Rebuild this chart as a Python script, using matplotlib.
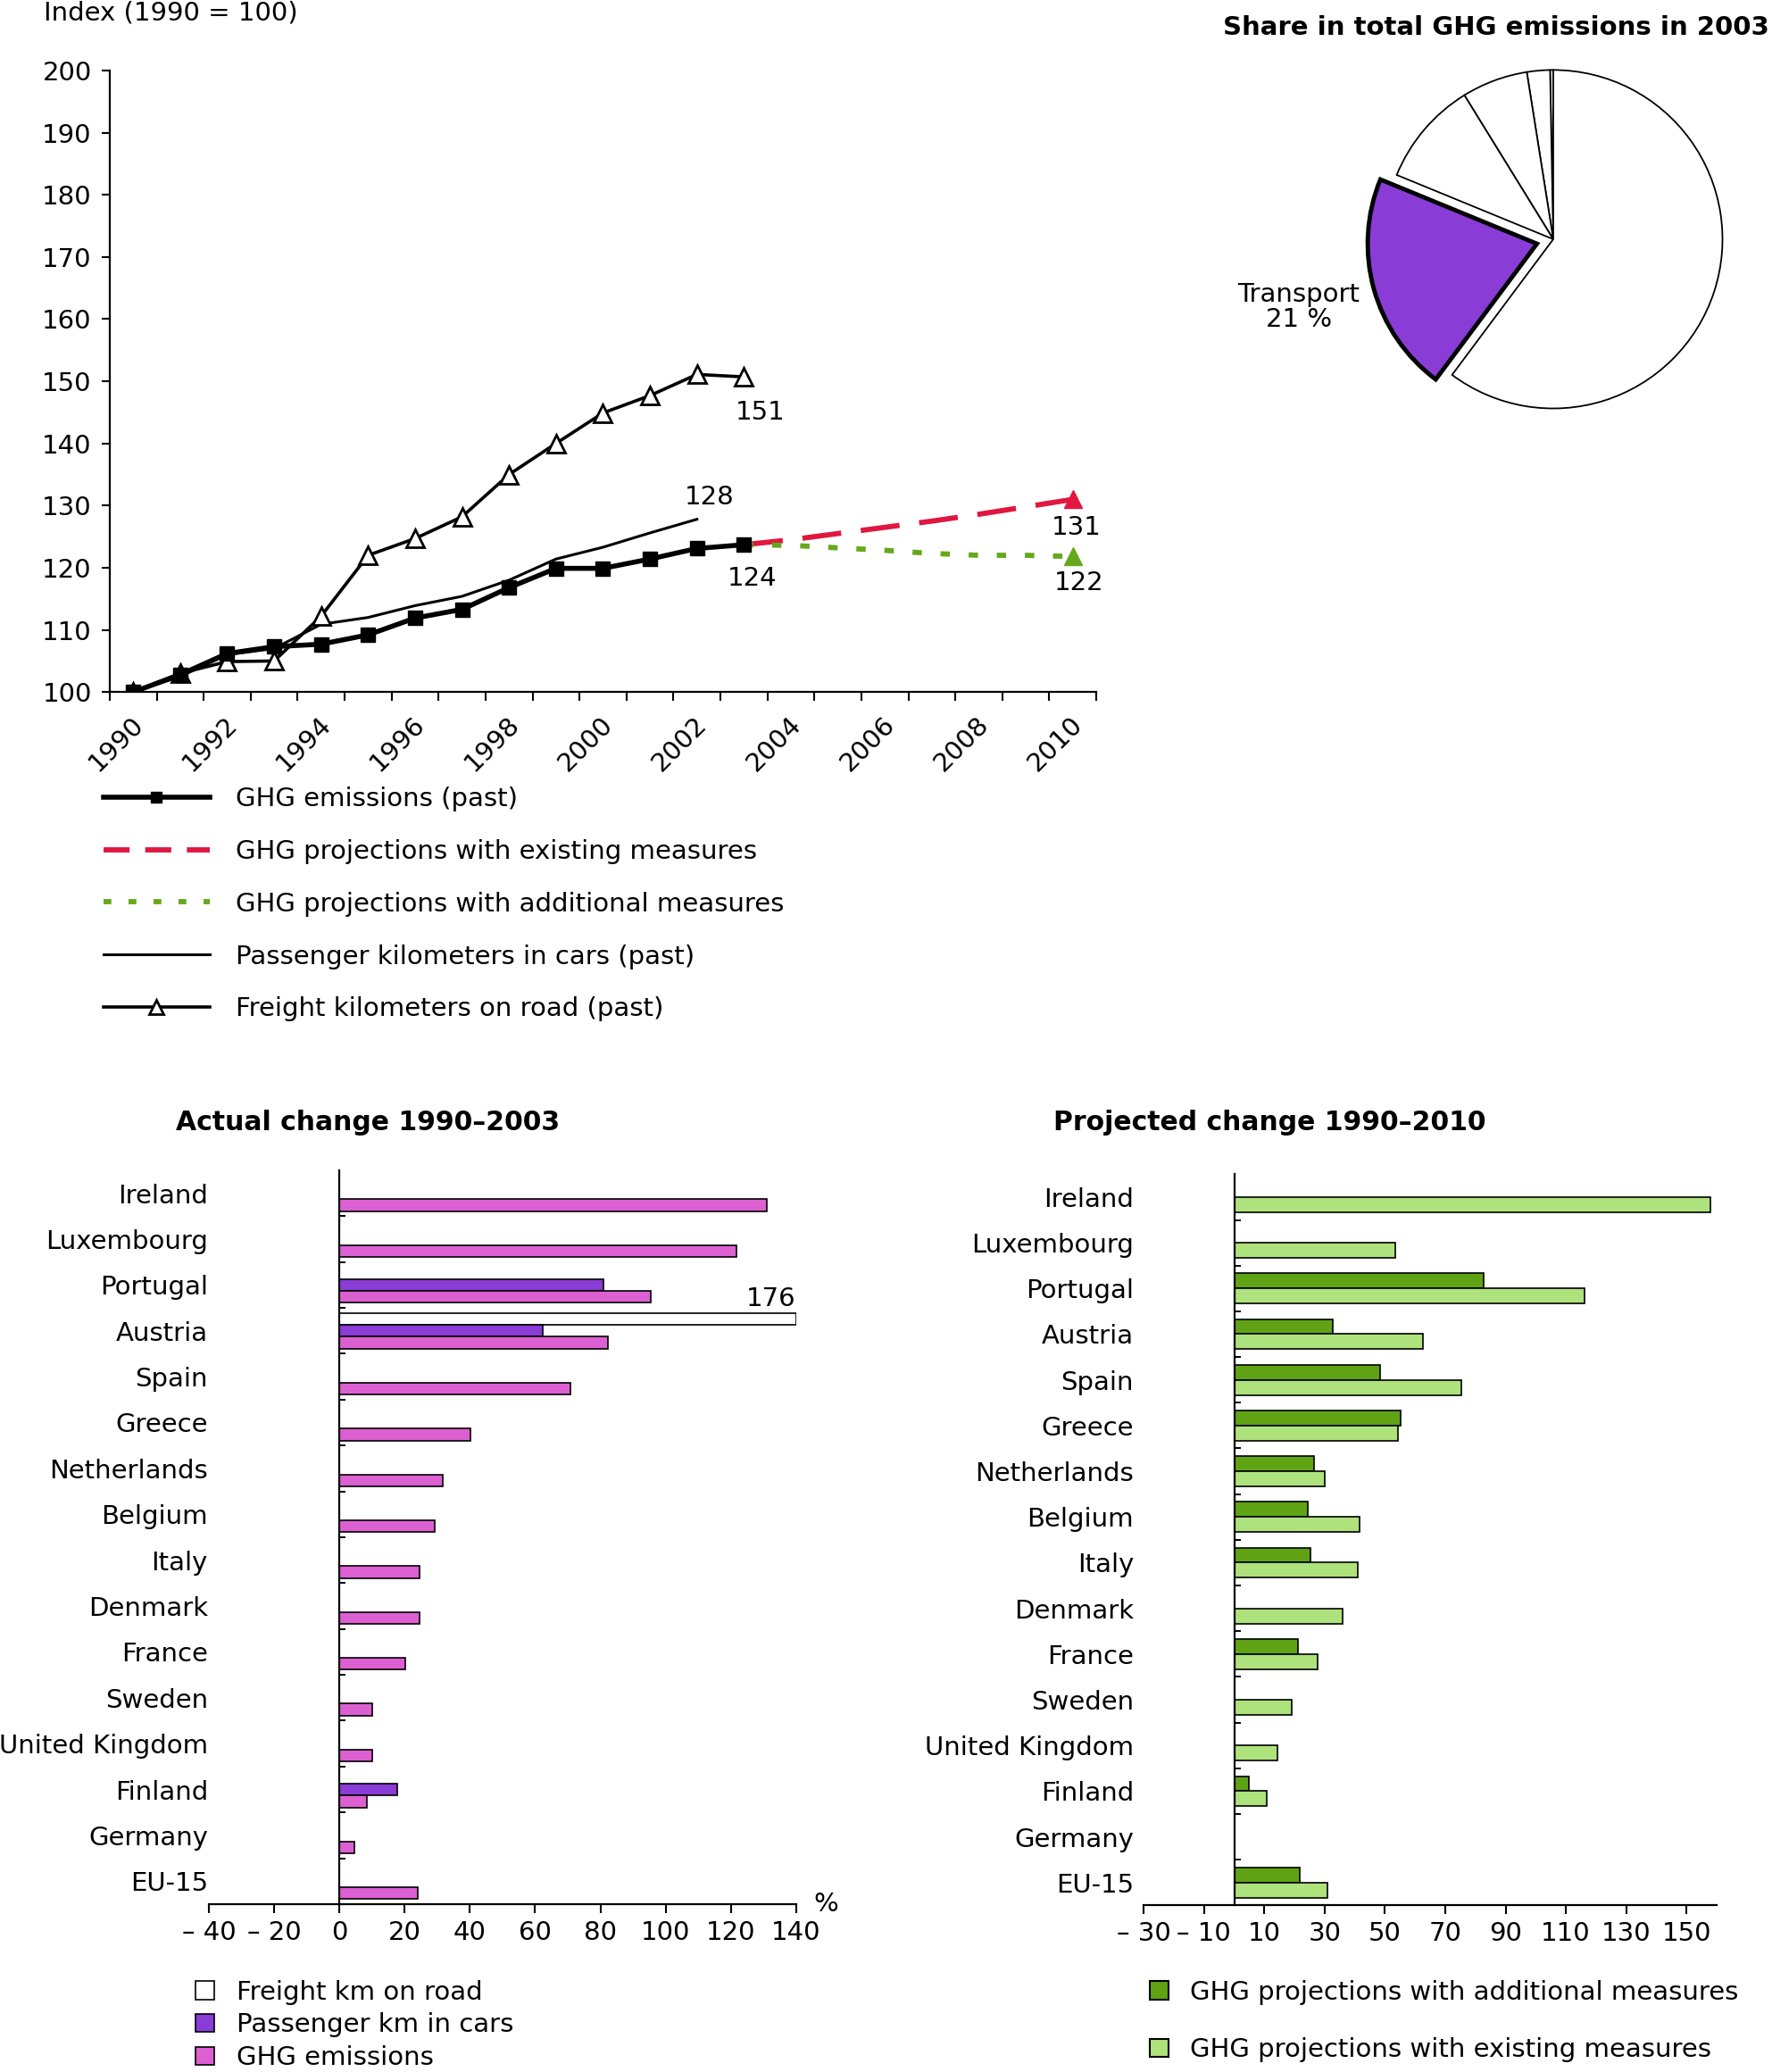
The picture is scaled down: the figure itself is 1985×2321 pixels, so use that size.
import matplotlib
matplotlib.use('Agg')
import matplotlib.pyplot as plt
from matplotlib.lines import Line2D
from matplotlib.patches import Patch
from matplotlib.transforms import ScaledTranslation
import numpy as np

plt.rcParams['font.family'] = ['DejaVu Sans']

# ---------------- data ----------------
years_past = list(range(1990, 2004))
ghg_past = [100, 102.8, 106.2, 107.3, 107.7, 109.2, 111.9, 113.3, 116.8, 119.9, 119.9, 121.4, 123.1, 123.7]
freight_km = [100, 103.0, 104.9, 105.0, 112.2, 122.0, 124.7, 128.2, 135.0, 140.0, 144.9, 147.7, 151.1, 150.7]
years_pass = list(range(1990, 2003))
passenger_km = [100, 102.5, 106.0, 107.0, 110.9, 112.0, 113.9, 115.4, 118.0, 121.4, 123.3, 125.6, 127.8]
years_proj = list(range(2003, 2011))
proj_existing = [123.7, 124.5, 125.5, 126.5, 127.5, 128.6, 129.8, 131.0]
proj_additional = [123.7, 123.6, 123.2, 122.8, 122.3, 122.0, 122.0, 121.8]

pie_sectors = ['Other', 'Waste', 'Industrial processes', 'Agriculture', 'Transport', 'Energy']
pie_shares = [0.3, 2.2, 6.3, 10.0, 21.0, 60.2]

countries = ['Ireland', 'Luxembourg', 'Portugal', 'Austria', 'Spain', 'Greece', 'Netherlands',
             'Belgium', 'Italy', 'Denmark', 'France', 'Sweden', 'United Kingdom', 'Finland',
             'Germany', 'EU-15']
nan = np.nan
freight_change = [nan, nan, nan, 176, nan, nan, nan, nan, nan, nan, nan, nan, nan, nan, nan, nan]
passenger_change = [nan, nan, 81.0, 62.2, nan, nan, nan, nan, nan, nan, nan, nan, nan, 17.7, nan, nan]
ghg_change = [131.0, 121.8, 95.4, 82.4, 70.8, 40.1, 31.7, 29.1, 24.5, 24.5, 20.2, 10.0, 10.0, 8.3, 4.5, 23.9]
proj_add_change = [nan, nan, 82.7, 32.6, 48.3, 55.1, 26.6, 24.3, 25.2, nan, 21.0, nan, nan, 5.0, nan, 21.6]
proj_exist_change = [157.9, 53.4, 116.3, 62.5, 75.3, 54.4, 29.9, 41.6, 41.0, 35.9, 27.6, 19.0, 14.2, 10.7, nan, 30.9]

# ---------------- style ----------------
C_RED = '#E0173F'
C_GREEN_DOT = '#66A81B'
C_PURPLE = '#8A3CD6'
C_PINK = '#DC60D2'
C_DKGREEN = '#5FA315'
C_LTGREEN = '#AEE27C'
FS = 21      # line chart / pie text
FSB = 21     # bar chart text
FST = 21.5   # bold titles

fig = plt.figure(figsize=(19.85, 23.21), dpi=100)

# ---------------- line chart ----------------
ax = fig.add_axes([0.0619, 0.666, 0.5568, 0.300])
ax.plot(years_proj, proj_existing, color=C_RED, lw=4.2, dashes=(7.5, 3.8),
        marker='^', markevery=[len(years_proj) - 1], ms=15, mfc=C_RED, mec=C_RED, zorder=2)
ax.plot(years_proj, proj_additional, color=C_GREEN_DOT, lw=4.2, dashes=(1.8, 3.6),
        marker='^', markevery=[len(years_proj) - 1], ms=15, mfc=C_GREEN_DOT, mec=C_GREEN_DOT, zorder=2)
ax.plot(years_pass, passenger_km, color='black', lw=2.2, zorder=3)
ax.plot(years_past, freight_km, color='black', lw=2.6, marker='^', ms=15,
        mfc='white', mec='black', mew=2.0, zorder=4)
ax.plot(years_past, ghg_past, color='black', lw=4.0, marker='s', ms=12, zorder=5)

ax.set_xlim(1989.5, 2010.5)
ax.set_ylim(100, 200)
ax.set_yticks(np.arange(100, 201, 10))
ax.set_xticks(np.arange(1990, 2011, 2))
ax.set_xticks(np.arange(1989.5, 2010.6, 1), minor=True)
ax.tick_params(axis='x', which='major', length=0, pad=23, labelsize=FS, labelrotation=45)
ax.tick_params(axis='x', which='minor', length=7.5, width=1.5, direction='out')
ax.tick_params(axis='y', which='major', length=6.5, width=1.5, direction='out', pad=8, labelsize=FS)
for lab in ax.get_xticklabels():
    lab.set_ha('right')
    lab.set_va('center')
    lab.set_rotation_mode('anchor')
    lab.set_transform(lab.get_transform() + ScaledTranslation(5 / 72, 0, fig.dpi_scale_trans))
for s in ['top', 'right']:
    ax.spines[s].set_visible(False)
for s in ['left', 'bottom']:
    ax.spines[s].set_linewidth(1.6)
ax.patch.set_alpha(0)

ax.annotate(f'{freight_km[-1]:.0f}', xy=(years_past[-1], freight_km[-1]), xytext=(13, -29),
            textcoords='offset points', ha='center', va='center', fontsize=FS)
ax.annotate(f'{passenger_km[-1]:.0f}', xy=(years_pass[-1], passenger_km[-1]), xytext=(10, 18),
            textcoords='offset points', ha='center', va='center', fontsize=FS)
ax.annotate(f'{ghg_past[-1]:.0f}', xy=(years_past[-1], ghg_past[-1]), xytext=(7, -27),
            textcoords='offset points', ha='center', va='center', fontsize=FS)
ax.annotate(f'{proj_existing[-1]:.0f}', xy=(years_proj[-1], proj_existing[-1]), xytext=(3, -23),
            textcoords='offset points', ha='center', va='center', fontsize=FS)
ax.annotate(f'{proj_additional[-1]:.0f}', xy=(years_proj[-1], proj_additional[-1]), xytext=(5, -21),
            textcoords='offset points', ha='center', va='center', fontsize=FS)

fig.text(0.0246, 0.9936, 'Index (1990 = 100)', fontsize=FS, ha='left', va='center')

line_handles = [
    Line2D([], [], color='black', lw=4.0, marker='s', ms=8),
    Line2D([], [], color=C_RED, lw=4.2, dashes=(5.0, 3.0)),
    Line2D([], [], color=C_GREEN_DOT, lw=4.2, dashes=(1.5, 3.3)),
    Line2D([], [], color='black', lw=2.2),
    Line2D([], [], color='black', lw=2.6, marker='^', ms=11, mfc='white', mec='black', mew=2.0),
]
line_labels = ['GHG emissions (past)', 'GHG projections with existing measures',
               'GHG projections with additional measures', 'Passenger kilometers in cars (past)',
               'Freight kilometers on road (past)']
fig.legend(line_handles, line_labels, loc='upper left', bbox_to_anchor=(0.0582, 0.6205),
           frameon=False, fontsize=FS, handlelength=4.1, handletextpad=1.0,
           labelspacing=1.06, borderpad=0, borderaxespad=0, numpoints=1)

# ---------------- pie ----------------
pax = fig.add_axes([0.7715, 0.7947, 0.2101, 0.1797])
explode = [0.1 if s == 'Transport' else 0 for s in pie_sectors]
colors = [C_PURPLE if s == 'Transport' else 'white' for s in pie_sectors]
wedges, _ = pax.pie(pie_shares, explode=explode, colors=colors, startangle=90, counterclock=True,
                    wedgeprops=dict(edgecolor='black', linewidth=1.3))
for w, s in zip(wedges, pie_sectors):
    if s == 'Transport':
        w.set_linewidth(3.5)
        w.set_zorder(3)
pax.set_xlim(-1.1, 1.1)
pax.set_ylim(-1.1, 1.1)
pax.set_aspect('equal')
fig.text(0.9985, 0.9866, 'Share in total GHG emissions in 2003', fontsize=FST - 0.5, fontweight='bold',
         ha='right', va='center')
ti = pie_sectors.index('Transport')
fig.text(0.7328, 0.852, f'{pie_sectors[ti]}\n{pie_shares[ti]:.0f} %', fontsize=FS,
         ha='center', va='center', linespacing=1.0)

# ---------------- bar charts ----------------
ypos = np.arange(len(countries))


def style_bar_axis(a, xmin, xmax, xticks, pad):
    a.set_xlim(xmin, xmax)
    a.set_ylim(len(countries) - 0.5, -0.5)
    a.set_xticks(xticks)
    a.set_xticklabels([('– %d' % abs(v)) if v < 0 else '%d' % v for v in xticks])
    a.set_yticks(ypos)
    a.set_yticklabels(countries)
    a.set_yticks(ypos[:-1] + 0.5, minor=True)
    a.spines['left'].set_position(('data', 0))
    a.spines['left'].set_linewidth(1.6)
    a.spines['bottom'].set_linewidth(1.6)
    a.spines['top'].set_visible(False)
    a.spines['right'].set_visible(False)
    a.tick_params(axis='y', which='major', length=0, pad=pad, labelsize=FSB)
    a.tick_params(axis='y', which='minor', length=5, width=1.4, direction='in')
    a.tick_params(axis='x', which='major', length=7, width=1.5, direction='out', labelsize=FSB, pad=6)
    a.patch.set_alpha(0)


# left: actual change
axL = fig.add_axes([0.1179, 0.0810, 0.3314, 0.3542])
xmaxL = 140
h3 = 0.26
freight_draw = np.minimum(np.array(freight_change, dtype=float), xmaxL)
axL.barh(ypos - h3, freight_draw, height=h3, color='white', edgecolor='black', linewidth=1.2, zorder=2)
axL.barh(ypos, passenger_change, height=h3, color=C_PURPLE, edgecolor='black', linewidth=1.2, zorder=2)
axL.barh(ypos + h3, ghg_change, height=h3, color=C_PINK, edgecolor='black', linewidth=1.2, zorder=2)
style_bar_axis(axL, -40, xmaxL, list(range(-40, 141, 20)), 106)
for i, v in enumerate(freight_change):
    if not np.isnan(v) and v > xmaxL:
        axL.annotate(f'{v:.0f}', xy=(xmaxL, ypos[i] - h3 * 1.5), xytext=(0, 1),
                     textcoords='offset points', ha='right', va='bottom', fontsize=FSB)
axL.text(1.05, 0.0, '%', transform=axL.transAxes, ha='center', va='center', fontsize=FSB)
fig.text(0.2075, 0.458, 'Actual change 1990–2003', fontsize=FST, fontweight='bold', ha='center', va='center')
left_handles = [Patch(facecolor='white', edgecolor='black', linewidth=1.2),
                Patch(facecolor=C_PURPLE, edgecolor='black', linewidth=1.2),
                Patch(facecolor=C_PINK, edgecolor='black', linewidth=1.2)]
fig.legend(left_handles, ['Freight km on road', 'Passenger km in cars', 'GHG emissions'],
           loc='upper left', bbox_to_anchor=(0.1105, 0.0445), frameon=False, fontsize=FSB,
           handlelength=0.7, handleheight=0.7, handletextpad=0.85, labelspacing=0.3,
           borderpad=0, borderaxespad=0)

# right: projected change
axR = fig.add_axes([0.6455, 0.0804, 0.3232, 0.3529])
h2 = 0.33
axR.barh(ypos - h2 / 2, proj_add_change, height=h2, color=C_DKGREEN, edgecolor='black', linewidth=1.2, zorder=2)
axR.barh(ypos + h2 / 2, proj_exist_change, height=h2, color=C_LTGREEN, edgecolor='black', linewidth=1.2, zorder=2)
style_bar_axis(axR, -30, 160, list(range(-30, 151, 20)), 81)
fig.text(0.7165, 0.458, 'Projected change 1990–2010', fontsize=FST, fontweight='bold', ha='center', va='center')
right_handles = [Patch(facecolor=C_DKGREEN, edgecolor='black', linewidth=1.5),
                 Patch(facecolor=C_LTGREEN, edgecolor='black', linewidth=1.5)]
fig.legend(right_handles, ['GHG projections with additional measures', 'GHG projections with existing measures'],
           loc='upper left', bbox_to_anchor=(0.649, 0.0445), frameon=False, fontsize=FSB,
           handlelength=0.7, handleheight=0.7, handletextpad=0.85, labelspacing=1.25,
           borderpad=0, borderaxespad=0)

fig.savefig('out.png', dpi=100)
